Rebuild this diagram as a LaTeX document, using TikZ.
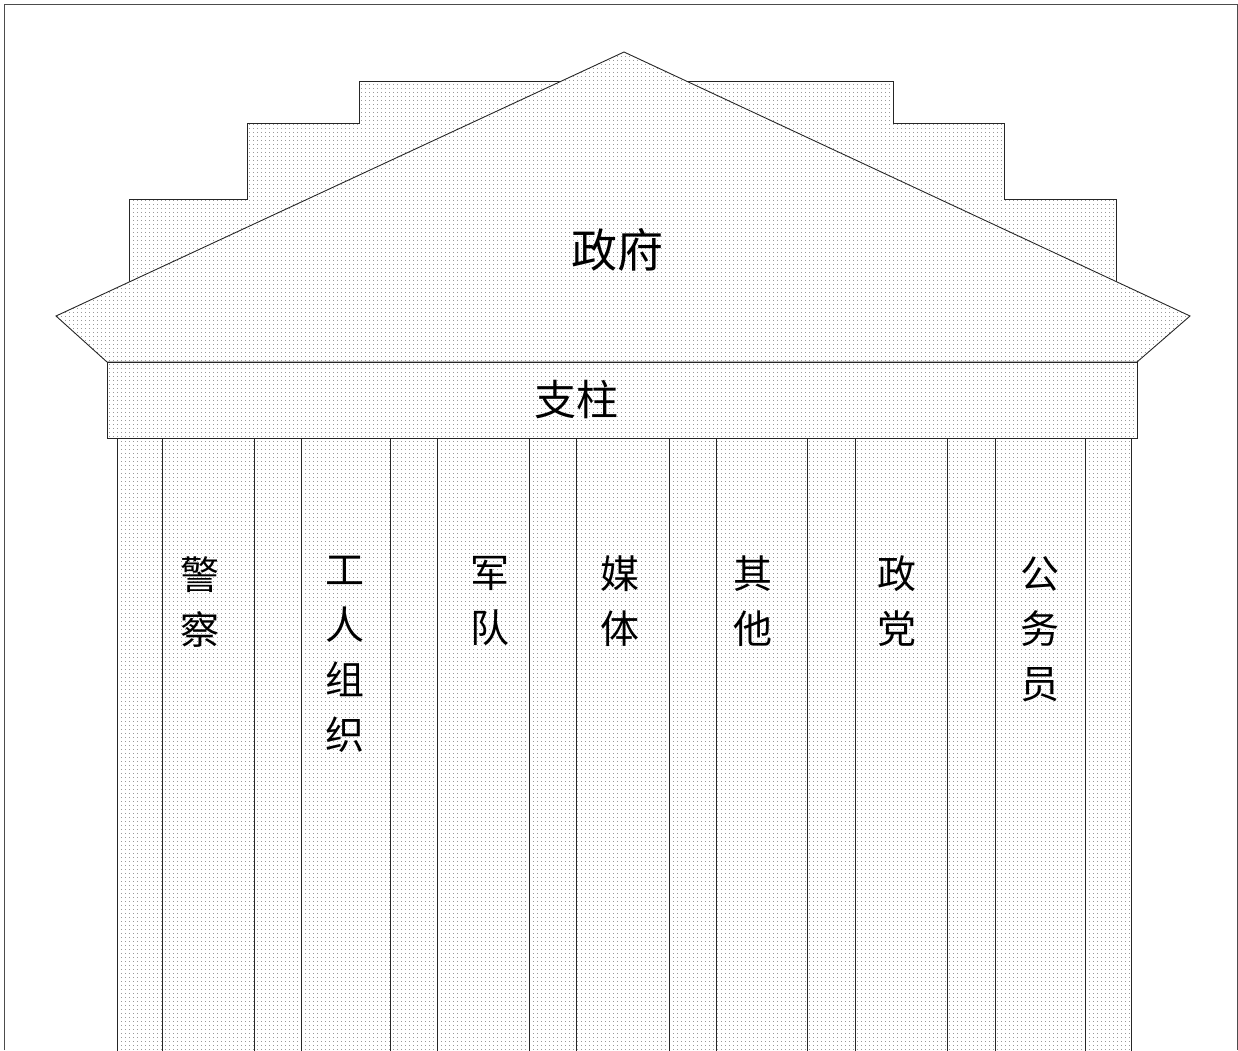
\documentclass[tikz,border=0pt]{standalone}
\usepackage{fontspec}
\newfontfamily\cjk{Noto Sans CJK SC}
\usetikzlibrary{patterns.meta}
\pgfdeclarepattern{
  name=dotfill,
  type=uncolored,
  bottom left={\pgfpoint{0pt}{0pt}},
  top right={\pgfpoint{4pt}{4pt}},
  tile size={\pgfpoint{4pt}{4pt}},
  code={\pgfpathrectangle{\pgfpoint{1.5pt}{1.5pt}}{\pgfpoint{0.9pt}{0.9pt}}\pgfusepath{fill}}
}
\tikzset{
  part/.style={draw=black!85, line width=0.9pt, preaction={fill=white}, pattern=dotfill, pattern color=black!40},
  partfill/.style={preaction={fill=white}, pattern=dotfill, pattern color=black!40},
  colline/.style={draw=black!85, line width=0.9pt},
  frameline/.style={draw=black!70, line width=1pt},
  bigtext/.style={font=\cjk\fontsize{46}{50}\selectfont, inner sep=0pt},
  midtext/.style={font=\cjk\fontsize{42}{46}\selectfont, inner sep=0pt},
  coltext/.style={font=\cjk\fontsize{39}{55}\selectfont, inner sep=0pt, align=center, anchor=north}
}
\begin{document}
\begin{tikzpicture}[x=1pt,y=-1pt]
\useasboundingbox (0,0) rectangle (1238,1050);
% frame
\draw[frameline] (4,1050) -- (4,4) -- (1237,4) -- (1237,1050);
% stepped back wall
\path[part] (129,290) -- (129,199) -- (247,199) -- (247,123) -- (359,123) -- (359,81)
  -- (893,81) -- (893,123) -- (1004,123) -- (1004,199) -- (1116,199) -- (1116,290) -- cycle;
% columns
\path[partfill] (117,438) rectangle (1131,1052);
\foreach \x in {117,162,254,301,390,437,529,576,669,716,807,855,947,995,1085,1131}
  \draw[colline] (\x,438) -- (\x,1052);
% roof
\path[part] (624,52) -- (1190,316) -- (1137,362) -- (107,362) -- (56,316) -- cycle;
% architrave
\path[part] (107,362) rectangle (1137,438);
% labels
\node[bigtext] (gov) at (617,250) {政府};
\node[midtext] (pillar) at (576,400) {支柱};
\node[coltext] (c1) at (200,556) {警\\察};
\node[coltext] (c2) at (345,556) {工\\人\\组\\织};
\node[coltext] (c3) at (490,556) {军\\队};
\node[coltext] (c4) at (620,556) {媒\\体};
\node[coltext] (c5) at (753,556) {其\\他};
\node[coltext] (c6) at (897,556) {政\\党};
\node[coltext] (c7) at (1040,556) {公\\务\\员};
\end{tikzpicture}
\end{document}
